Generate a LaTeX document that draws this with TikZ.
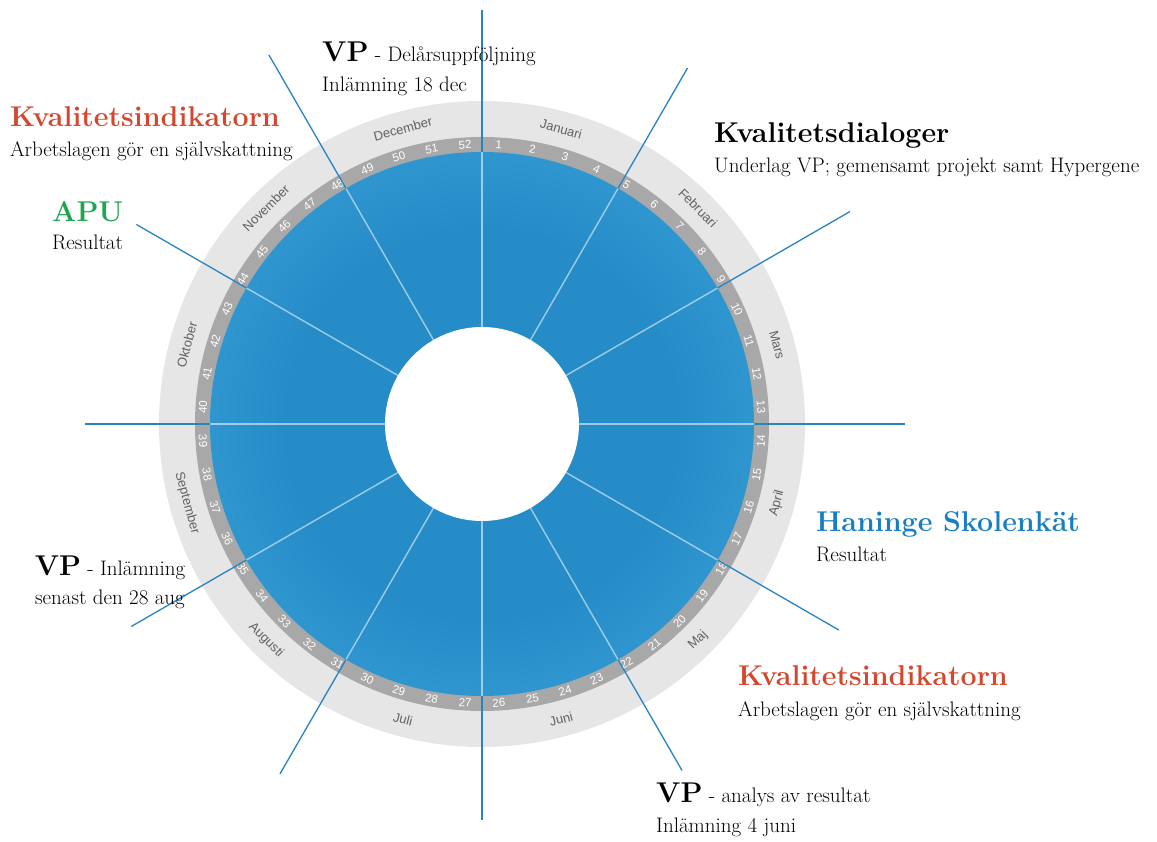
\documentclass[tikz,border=0pt]{standalone}
\usepackage{fontspec}
\setsansfont{Liberation Sans}

\definecolor{kired}{RGB}{212,70,45}
\definecolor{apugreen}{RGB}{30,165,80}
\definecolor{hanblue}{RGB}{24,126,194}
\definecolor{weekgray}{RGB}{168,168,168}
\definecolor{monthgray}{RGB}{230,230,230}
\definecolor{spokeblue}{RGB}{38,132,192}
\definecolor{discdark}{RGB}{38,140,200}
\definecolor{disclight}{RGB}{80,184,233}

\pgfdeclareradialshading{discshade}{\pgfpoint{0bp}{0bp}}{color(0bp)=(discdark); color(18bp)=(discdark); color(50bp)=(disclight)}

\begin{document}
\begin{tikzpicture}[x=1pt,y=1pt,
  wk/.style={font=\sffamily\fontsize{11.5}{11.5}\selectfont, text=white, inner sep=0pt},
  mon/.style={font=\sffamily\fontsize{13}{13}\selectfont, text=black!62, inner sep=0pt},
  head/.style={font=\bfseries\fontsize{28.6}{30}\selectfont, anchor=base west, inner sep=0pt},
  body/.style={font=\fontsize{21}{24}\selectfont, anchor=base west, inner sep=0pt},
  spokein/.style={white, opacity=0.55, line width=1.4pt},
  spoke/.style={spokeblue, line width=1.3pt}]
  \useasboundingbox (-482,-418) rectangle (675,424);

  % rings and disc
  \fill[monthgray] (0,0) circle (323);
  \fill[weekgray]  (0,0) circle (287);
  \shade[shading=discshade] (0,0) circle (272);
  \fill[white] (0,0) circle (97);

  % week numbers
  \foreach \w in {1,...,52} {
    \pgfmathsetmacro\ang{(\w-0.5)*(360/52)}
    \pgfmathsetmacro\rot{ifthenelse(\ang>90 && \ang<270, 180-\ang, -\ang)}
    \node[wk, rotate=\rot] (w\w) at ({90-\ang}:279.5) {\w};
  }

  % months
  \foreach \m [count=\i] in {Januari,Februari,Mars,April,Maj,Juni,Juli,Augusti,September,Oktober,November,December} {
    \pgfmathsetmacro\ang{15+30*(\i-1)}
    \pgfmathsetmacro\rot{ifthenelse(\ang>90 && \ang<270, 180-\ang, -\ang)}
    \node[mon, rotate=\rot] (m\i) at ({90-\ang}:305.5) {\m};
  }

  % spokes
  \foreach \ang/\rr [count=\i] in {0/414,30/411,60/425,90/423,120/412,150/400,180/396,210/404,240/405,270/397,300/399,330/426} {
    \coordinate (in\i)  at ({90-\ang}:97);
    \coordinate (rim\i) at ({90-\ang}:272);
    \coordinate (end\i) at ({90-\ang}:\rr);
    \draw[spokein] (in\i) -- (rim\i);
    \draw[spoke] (rim\i) -- (end\i);
  }

  % events
  \node[body] (vp1) at (-160,362) {{\bfseries\fontsize{28.6}{30}\selectfont VP} - Delårsuppföljning};
  \node[body] (vp1b) at (-160,332) {Inlämning 18 dec};
  \node[head, text=kired] (ki1) at (-472,297) {Kvalitetsindikatorn};
  \node[body] (ki1b) at (-472,267) {Arbetslagen gör en självskattning};
  \node[head, text=apugreen] (apu) at (-430,202) {APU};
  \node[body] (apub) at (-430,174) {Resultat};
  \node[head] (kd) at (232,281) {Kvalitetsdialoger};
  \node[body] (kdb) at (232,251) {Underlag VP; gemensamt projekt samt Hypergene};
  \node[head, text=hanblue] (hs) at (334,-108) {Haninge Skolenkät};
  \node[body] (hsb) at (334,-138) {Resultat};
  \node[head, text=kired] (ki2) at (256,-262) {Kvalitetsindikatorn};
  \node[body] (ki2b) at (256,-293) {Arbetslagen gör en självskattning};
  \node[body] (vp3) at (174,-379) {{\bfseries\fontsize{28.6}{30}\selectfont VP} - analys av resultat};
  \node[body] (vp3b) at (174,-409) {Inlämning 4 juni};
  \node[body, anchor=base] (vp2) at (-372,-152) {{\bfseries\fontsize{28.6}{30}\selectfont VP} - Inlämning};
  \node[body, anchor=base] (vp2b) at (-372,-181) {senast den 28 aug};
\end{tikzpicture}
\end{document}
